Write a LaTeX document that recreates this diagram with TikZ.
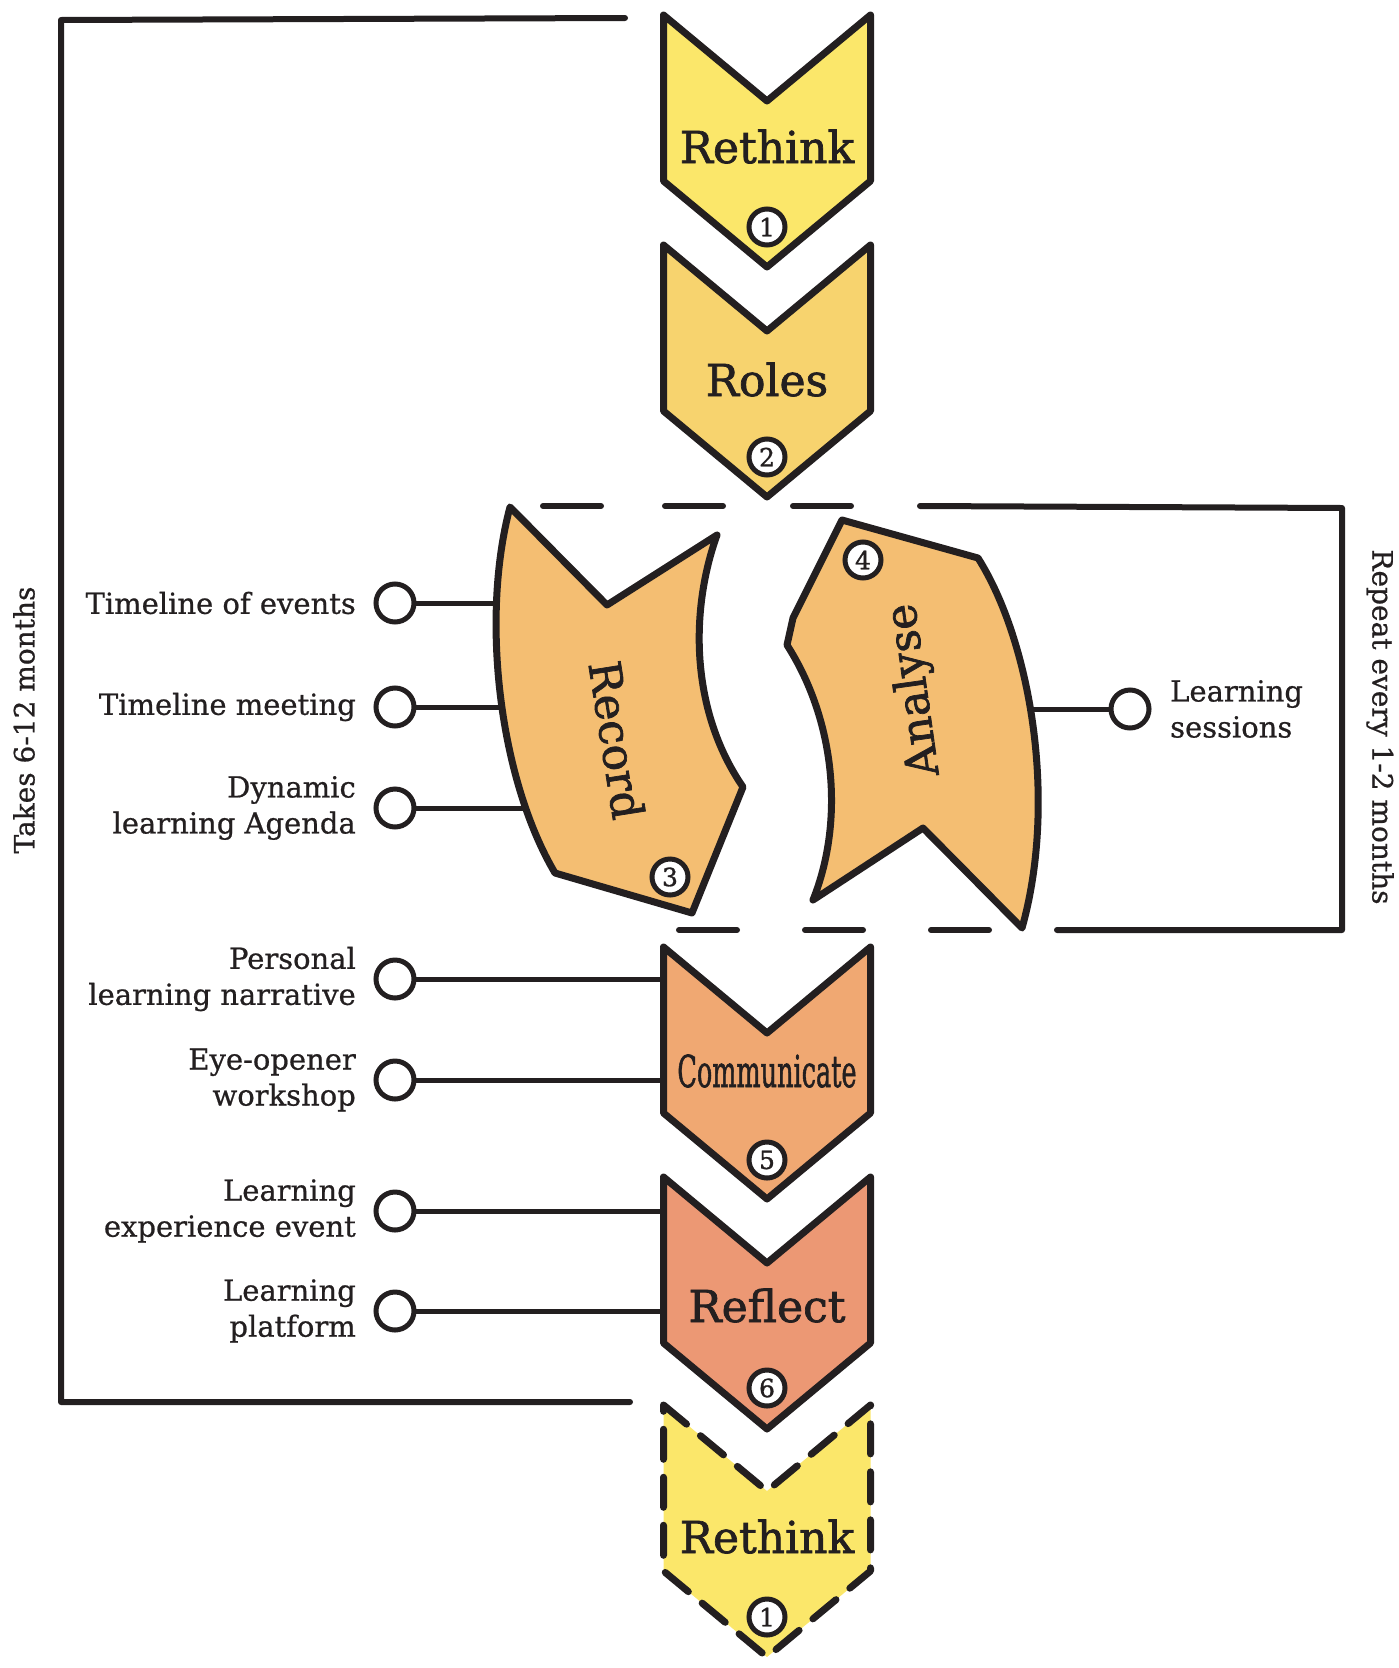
\documentclass[tikz,border=0pt]{standalone}
\usepackage{fontspec}
\setmainfont{DejaVu Serif}
\newfontfamily\headfont[FakeBold=1.6]{DejaVu Serif}
\newfontfamily\labfont[FakeBold=0.7]{DejaVu Serif}
\newfontfamily\numfont[FakeBold=1.2]{DejaVu Serif}
\definecolor{ink}{HTML}{231F20}
\definecolor{cRethink}{HTML}{FBE76A}
\definecolor{cRoles}{HTML}{F7D36E}
\definecolor{cRec}{HTML}{F4BE72}
\definecolor{cComm}{HTML}{F0A872}
\definecolor{cRefl}{HTML}{EC9874}
\newcommand\chev[2]{\draw[#2] (663.5,#1) -- (767,#1+86) -- (870.5,#1) -- (870.5,#1+166) -- (767,#1+252) -- (663.5,#1+166) -- cycle;}
\begin{document}
\begin{tikzpicture}[x=1pt,y=-1pt,
  ol/.style={draw=ink,line width=7pt,line join=round,line cap=round},
  conn/.style={draw=ink,line width=5pt,line cap=round},
  brk/.style={draw=ink,line width=6pt,line cap=round,line join=round},
  dot/.style={circle,draw=ink,line width=5pt,fill=white,minimum size=38pt,inner sep=0pt},
  num/.style={circle,draw=ink,line width=5pt,fill=white,minimum size=36pt,inner sep=0pt,text=ink,font=\numfont\fontsize{25}{25}\selectfont},
  head/.style={font=\headfont\fontsize{44}{48}\selectfont,text=ink,anchor=base,inner sep=0pt},
  lab/.style={font=\labfont\fontsize{29}{36}\selectfont,text=ink,align=right,anchor=east,inner sep=0pt},
  side/.style={font=\labfont\fontsize{28}{34}\selectfont,text=ink,inner sep=0pt}]
\useasboundingbox (0,0) rectangle (1399,1668);

% outer bracket (6-12 months)
\draw[brk] (625,18) -- (61,20) -- (61,1402) -- (630,1402);
\node[side,rotate=90] (takes) at (24,720) {Takes 6-12 months};

% repeat bracket around record / analyse
\draw[brk] (543,506) -- (601,506);
\draw[brk] (665,506) -- (723,506);
\draw[brk] (793,506) -- (851,506);
\draw[brk] (920,506) -- (1342,508) -- (1342,930) -- (1057,930);
\draw[brk] (989,930) -- (931,930);
\draw[brk] (863,930) -- (805,930);
\draw[brk] (737,930) -- (679,930);
\node[side,rotate=-90] (repeat) at (1380,727) {Repeat every 1-2 months};

% label circles
\node[dot] (d1) at (395,603) {};
\node[dot] (d2) at (395,707) {};
\node[dot] (d3) at (395,808) {};
\node[dot] (d4) at (395,979) {};
\node[dot] (d5) at (395,1080) {};
\node[dot] (d6) at (395,1211) {};
\node[dot] (d7) at (395,1311) {};
\node[dot] (d8) at (1130,709) {};

\node[lab] (l1) at (356,603) {Timeline of events};
\node[lab] (l2) at (356,707) {Timeline meeting};
\node[lab] (l3) at (356,808) {Dynamic\\learning Agenda};
\node[lab] (l4) at (356,979) {Personal\\learning narrative};
\node[lab] (l5) at (356,1080) {Eye-opener\\workshop};
\node[lab] (l6) at (356,1211) {Learning\\experience event};
\node[lab] (l7) at (356,1311) {Learning\\platform};
\node[lab,anchor=west,align=left] (l8) at (1170,709) {Learning\\sessions};

% connector end points on the shapes
\coordinate (rc1) at (500,603);
\coordinate (rc2) at (503,707);
\coordinate (rc3) at (530,808);
\coordinate (cc1) at (680,979);
\coordinate (cc2) at (680,1080);
\coordinate (fc1) at (680,1211);
\coordinate (fc2) at (680,1311);
\coordinate (ac) at (1020,709);

\draw[conn] (d1.east) -- (rc1);
\draw[conn] (d2.east) -- (rc2);
\draw[conn] (d3.east) -- (rc3);
\draw[conn] (d4.east) -- (cc1);
\draw[conn] (d5.east) -- (cc2);
\draw[conn] (d6.east) -- (fc1);
\draw[conn] (d7.east) -- (fc2);
\draw[conn] (d8.west) -- (ac);

% chevrons
\chev{15}{ol,fill=cRethink}
\node[head] (rethink) at (767,163) {Rethink};
\node[num] (n1) at (767,227) {1};

\chev{245}{ol,fill=cRoles}
\node[head] (roles) at (767,396) {Roles};
\node[num] (n2) at (767,457) {2};

% record
\draw[ol,fill=cRec] (510,507) -- (607,605) -- (717,535)
  .. controls (690,610) and (690,710) .. (743,787)
  -- (692,913) -- (555,873)
  .. controls (500,780) and (480,620) .. (510,507) -- cycle;
\node[head,anchor=center,rotate=-81] (record) at (617,740) {Record};
\node[num] (n3) at (670,877) {3};

% analyse
\draw[ol,fill=cRec] (842,520) -- (978,558)
  .. controls (1030,640) and (1058,800) .. (1022,928)
  -- (923,828) -- (813,900)
  .. controls (845,820) and (835,720) .. (787,645)
  -- (793,618) -- cycle;
\node[head,anchor=center,rotate=98] (analyse) at (915,690) {Analyse};
\node[num] (n4) at (863,560) {4};

\chev{947}{ol,fill=cComm}
\node[head] (communicate) at (767,1087) {\scalebox{0.58}[1]{Communicate}};
\node[num] (n5) at (767,1160) {5};

\chev{1177}{ol,fill=cRefl}
\node[head] (reflect) at (767,1322) {Reflect};
\node[num] (n6) at (767,1388) {6};

\chev{1405}{fill=cRethink,draw=none}
\chev{1405}{ol,dash pattern=on 30pt off 18pt}
\node[head] (rethinkb) at (767,1553) {Rethink};
\node[num] (n7) at (767,1617) {1};
\end{tikzpicture}
\end{document}
